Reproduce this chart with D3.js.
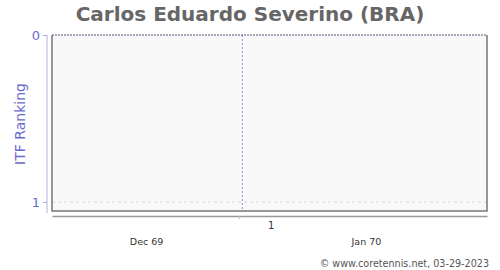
<!DOCTYPE html>
<html>
<head>
<meta charset="utf-8">
<script src="https://cdn.jsdelivr.net/npm/d3@7"></script>
<style>
  body { margin: 0; background: #fff; }
  text { font-family: "DejaVu Sans", sans-serif; }
</style>
</head>
<body>
<svg id="chart" width="500" height="270"></svg>
<script>
// chart values
const playerName = "Carlos Eduardo Severino (BRA)";
const rankTicks = [0, 1];
const monthLabels = ["Dec 69", "Jan 70"];
const monthDates = [new Date(1969, 11, 16), new Date(1970, 0, 16)];
const weekDates = [new Date(1969, 11, 29)];
const weekLabels = ["1"];
const markerDates = [new Date(1969, 11, 29, 12)];
const credit = "\u00a9 www.coretennis.net, 03-29-2023";

const width = 500, height = 270;
const plot = {left: 52, right: 487, top: 35, bottom: 211};

let svg = d3.select("#chart");

let x = d3.scaleTime()
    .domain([new Date(1969, 11, 2, 16), new Date(1970, 1, 2)])
    .range([plot.left, plot.right]);

let y = d3.scaleLinear()
    .domain([0, 1])
    .range([plot.top, 202]);

// plot background
svg.append("rect")
    .attr("x", plot.left).attr("y", plot.top)
    .attr("width", plot.right - plot.left)
    .attr("height", plot.bottom - plot.top)
    .attr("fill", "#f9f9f9");

// horizontal grid at ranks
svg.append("g").selectAll("line").data(rankTicks.filter(d => d > 0))
  .join("line")
    .attr("x1", plot.left).attr("x2", plot.right)
    .attr("y1", d => y(d)).attr("y2", d => y(d))
    .attr("stroke", "#d8d8d8")
    .attr("stroke-dasharray", "3,3");

// marker line
svg.append("g").selectAll("line").data(markerDates)
  .join("line")
    .attr("x1", d => x(d)).attr("x2", d => x(d))
    .attr("y1", plot.top).attr("y2", plot.bottom)
    .attr("stroke", "#8888e8")
    .attr("stroke-dasharray", "2,2");

// frame
svg.append("path")
    .attr("d", `M${plot.left},${plot.top}V${plot.bottom}H${plot.right}V${plot.top}`)
    .attr("fill", "none")
    .attr("stroke", "#777")
    .attr("stroke-width", 1.5);
svg.append("line")
    .attr("x1", plot.left).attr("x2", plot.right)
    .attr("y1", plot.top).attr("y2", plot.top)
    .attr("stroke", "#555577")
    .attr("stroke-dasharray", "2,1");

// y axis
let yAxis = svg.append("g")
    .attr("transform", "translate(47,0)")
    .call(d3.axisLeft(y).tickValues(rankTicks).tickFormat(d3.format("d")).tickSize(4).tickSizeOuter(0));
yAxis.select(".domain").attr("stroke", "#b0b0e0").attr("d", `M0,${plot.top}V${plot.bottom + 2}`);
yAxis.selectAll(".tick line").attr("stroke", "#b0b0e0");
yAxis.selectAll(".tick text")
    .attr("fill", "#6a6acd")
    .attr("font-size", 13)
    .attr("font-family", "DejaVu Sans");

// x axis (weeks)
let xAxis = svg.append("g")
    .attr("transform", "translate(0,216)")
    .call(d3.axisBottom(x).tickValues(weekDates).tickFormat("").tickSize(3).tickSizeOuter(0));
xAxis.select(".domain").attr("stroke", "#999").attr("stroke-width", 1.5);
xAxis.selectAll(".tick line").attr("stroke", "#bbb");

svg.append("g").selectAll("text").data(weekDates)
  .join("text")
    .attr("x", d => x(d3.timeHour.offset(d, 110)))
    .attr("y", 229)
    .attr("text-anchor", "middle")
    .attr("font-size", 10)
    .attr("fill", "#333")
    .text((d, i) => weekLabels[i]);

svg.append("g").selectAll("text").data(monthDates)
  .join("text")
    .attr("x", d => x(d))
    .attr("y", 245)
    .attr("text-anchor", "middle")
    .attr("font-size", 9.5)
    .attr("fill", "#333")
    .text((d, i) => monthLabels[i]);

// title
svg.append("text")
    .attr("x", width / 2).attr("y", 21)
    .attr("text-anchor", "middle")
    .attr("font-size", 20)
    .attr("font-weight", "bold")
    .attr("fill", "#666")
    .text(playerName);

// y axis title
svg.append("text")
    .attr("transform", "translate(25,124) rotate(-90)")
    .attr("text-anchor", "middle")
    .attr("font-size", 14)
    .attr("fill", "#6a6acd")
    .text("ITF Ranking");

// credit
svg.append("text")
    .attr("x", 489).attr("y", 267)
    .attr("text-anchor", "end")
    .attr("font-size", 9.6)
    .attr("fill", "#555")
    .text(credit);
</script>
</body>
</html>
